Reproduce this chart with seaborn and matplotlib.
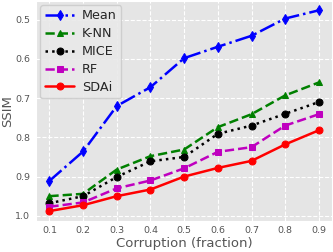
import numpy as np
import pandas as pd
import matplotlib
matplotlib.use("Agg")
import matplotlib.pyplot as plt
import seaborn as sns

corruption = [0.1, 0.2, 0.3, 0.4, 0.5, 0.6, 0.7, 0.8, 0.9]
mean_ssim = [0.911, 0.836, 0.720, 0.672, 0.598, 0.569, 0.541, 0.497, 0.476]
knn_ssim = [0.950, 0.944, 0.882, 0.848, 0.831, 0.774, 0.741, 0.693, 0.660]
mice_ssim = [0.968, 0.950, 0.901, 0.861, 0.850, 0.791, 0.770, 0.740, 0.710]
rf_ssim = [0.977, 0.966, 0.930, 0.910, 0.879, 0.837, 0.825, 0.770, 0.741]
sdai_ssim = [0.988, 0.973, 0.950, 0.933, 0.900, 0.878, 0.860, 0.818, 0.782]

sns.set_style("darkgrid", {"axes.facecolor": "#E5E5E5", "grid.color": "white",
                           "grid.linestyle": "--"})
plt.rcParams['font.family'] = ['DejaVu Sans']

fig, ax = plt.subplots(figsize=(3.33, 2.52), dpi=100)

series = [
    ("Mean", mean_ssim, "blue", "-.", "d"),
    ("K-NN", knn_ssim, "green", "--", "^"),
    ("MICE", mice_ssim, "black", ":", "o"),
    ("RF", rf_ssim, "m", "--", "s"),
    ("SDAi", sdai_ssim, "red", "-", "o"),
]
for name, vals, col, ls, mk in series:
    df = pd.DataFrame({"x": corruption, "y": vals})
    sns.lineplot(data=df, x="x", y="y", ax=ax, color=col, linestyle=ls,
                 marker=mk, markersize=5, markeredgecolor=col, linewidth=1.8,
                 label=name)

ax.set_xticks(corruption)
ax.set_yticks([0.5, 0.6, 0.7, 0.8, 0.9, 1.0])
ax.set_ylim(1.0127, 0.451)
ax.tick_params(axis="both", labelsize=6.8, colors="#555555", length=2.5,
               width=0.6, pad=1.5)
ax.set_xlabel("Corruption (fraction)", fontsize=9.5, color="#555555", labelpad=1)
ax.set_ylabel("SSIM", fontsize=9.5, color="#555555", labelpad=1)
ax.grid(True, color="white", linestyle="--", linewidth=0.8)
leg = ax.legend(loc="upper left", fontsize=9.2, handlelength=2.3,
                borderpad=0.35, labelspacing=0.38, handletextpad=0.6,
                facecolor="#E9E9E9", edgecolor="#CCCCCC", framealpha=0.9,
                borderaxespad=0.35)
plt.subplots_adjust(left=0.108, right=0.998, top=0.998, bottom=0.124)
fig.savefig("out.png", dpi=100)
